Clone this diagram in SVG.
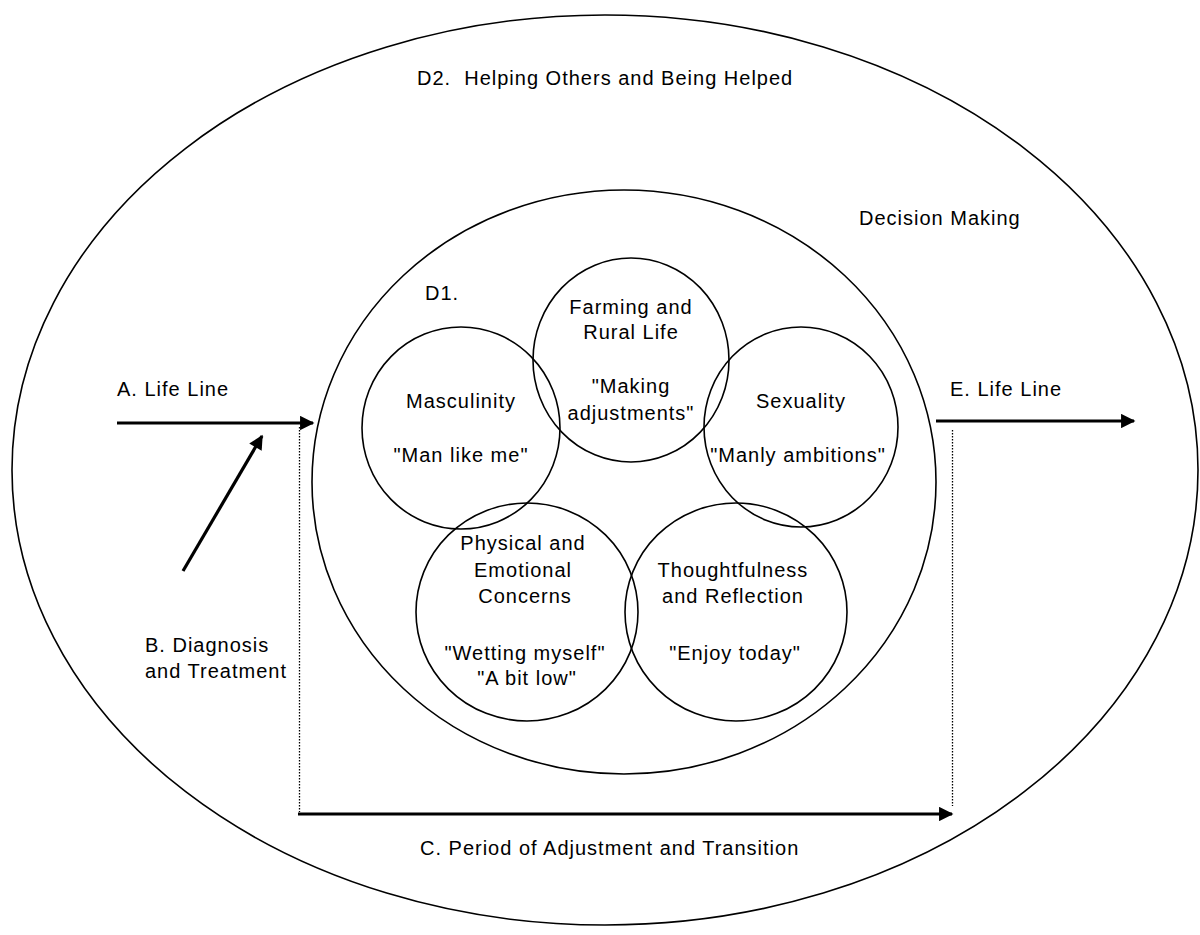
<svg xmlns="http://www.w3.org/2000/svg" width="1200" height="935" viewBox="0 0 1200 935">
<style>
.ring{fill:none;stroke:#000;stroke-width:1.6}
.t{font-family:"Liberation Sans",Arial,sans-serif;font-size:20px;letter-spacing:1px;fill:#000}
.c{text-anchor:middle}
.arrow{stroke:#000;stroke-width:3.2;fill:none}
.dot{stroke:#000;stroke-width:1.3;stroke-dasharray:1.5 1.5;fill:none}
</style>
<defs>
<marker id="ah" viewBox="0 0 10 10" refX="9" refY="5" markerWidth="5" markerHeight="4.5" orient="auto" markerUnits="strokeWidth">
<path d="M0,0 L10,5 L0,10 z" fill="#000"/>
</marker>
</defs>
<rect width="1200" height="935" fill="#fff"/>
<g id="outer">
<ellipse class="ring" cx="605" cy="470" rx="593" ry="455"/>
<text class="t" x="417" y="85">D2.&#160; Helping Others and Being Helped</text>
</g>
<g id="inner">
<ellipse class="ring" cx="624" cy="482" rx="312" ry="292"/>
<text class="t" x="859" y="225">Decision Making</text>
<text class="t" x="425" y="300">D1.</text>
</g>
<g id="masculinity">
<ellipse class="ring" cx="461" cy="428" rx="99" ry="101"/>
<text class="t c" x="461" y="408">Masculinity</text>
<text class="t c" x="461" y="462">"Man like me"</text>
</g>
<g id="farming">
<ellipse class="ring" cx="631" cy="360" rx="98" ry="102"/>
<text class="t c" x="631" y="314">Farming and</text>
<text class="t c" x="631" y="339">Rural Life</text>
<text class="t c" x="631" y="393">"Making</text>
<text class="t c" x="631" y="420">adjustments"</text>
</g>
<g id="sexuality">
<ellipse class="ring" cx="801" cy="427" rx="97" ry="100"/>
<text class="t c" x="801" y="408">Sexuality</text>
<text class="t c" x="798" y="462">"Manly ambitions"</text>
</g>
<g id="physical">
<ellipse class="ring" cx="527" cy="612" rx="111" ry="109"/>
<text class="t c" x="523" y="550">Physical and</text>
<text class="t c" x="523" y="577">Emotional</text>
<text class="t c" x="525" y="603">Concerns</text>
<text class="t c" x="525" y="660">"Wetting myself"</text>
<text class="t c" x="527" y="685">"A bit low"</text>
</g>
<g id="thoughtfulness">
<ellipse class="ring" cx="736" cy="612" rx="111" ry="109"/>
<text class="t c" x="733" y="577">Thoughtfulness</text>
<text class="t c" x="733" y="603">and Reflection</text>
<text class="t c" x="735" y="660">"Enjoy today"</text>
</g>
<g id="labels">
<text class="t" x="117" y="396">A. Life Line</text>
<text class="t" x="950" y="396">E. Life Line</text>
<text class="t" x="145" y="652">B. Diagnosis</text>
<text class="t" x="145" y="678">and Treatment</text>
<text class="t" x="420" y="855">C. Period of Adjustment and Transition</text>
</g>
<g id="connectors">
<line class="arrow" x1="117" y1="423" x2="313" y2="423" marker-end="url(#ah)"/>
<line class="arrow" x1="183" y1="571" x2="262" y2="436" marker-end="url(#ah)"/>
<line class="arrow" x1="936" y1="421" x2="1134" y2="421" marker-end="url(#ah)"/>
<line class="arrow" x1="298" y1="814" x2="952" y2="814" marker-end="url(#ah)"/>
<line class="dot" x1="299.5" y1="427" x2="299.5" y2="812"/>
<line class="dot" x1="952.5" y1="430" x2="952.5" y2="806"/>
</g>
</svg>
